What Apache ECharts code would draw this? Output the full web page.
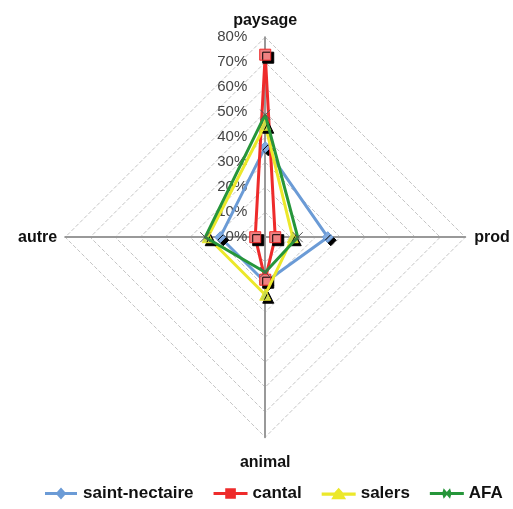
<!DOCTYPE html>
<html><head><meta charset="utf-8">
<script src="https://cdn.jsdelivr.net/npm/echarts@6/dist/echarts.min.js"></script>
<style>html,body{margin:0;padding:0;background:#fff}#c{width:513px;height:509px}</style>
</head><body><div id="c"></div>
<script>
// categories listed counter-clockwise starting at top (ECharts radar order)
var categories = ['paysage', 'autre', 'animal', 'prod'];
var seriesNames = ['saint-nectaire', 'cantal', 'salers', 'AFA'];
var saintNectaire = [36, 18, 18, 25];
var cantal = [73, 4, 17, 4];
var salers = [45, 23, 23, 11];
var afa = [49, 24, 14, 13];
var tickMax = 80;
var tickStep = 10;

var colors = ['#6b9bd6', '#ee2b2b', '#ece82a', '#26963a'];
var fills = ['#80aae0', '#f08282', '#c8d84a', '#555555'];
var symbols = ['diamond', 'rect', 'triangle', 'path://M0,0L10,10M10,0L0,10'];
var legendIcons = [
  'path://M0,4.5L12,4.5L16,0L20,4.5L32,4.5L32,7.5L20,7.5L16,12L12,7.5L0,7.5Z',
  'path://M0,4.5L11,4.5L11,1L21,1L21,4.5L32,4.5L32,7.5L21,7.5L21,11L11,11L11,7.5L0,7.5Z',
  'path://M0,4.5L12,4.5L16,0L20,4.5L32,4.5L32,7.5L21,7.5L23,11L9,11L11,7.5L0,7.5Z',
  'path://M0,4.5L12,4.5L13,1L16,4.5L19,1L20,4.5L32,4.5L32,7.5L20,7.5L19,11L16,7.5L13,11L12,7.5L0,7.5Z'
];
var values = [saintNectaire, cantal, salers, afa];
var nameGaps = [9, 8, 17, 9];

var chart = echarts.init(document.getElementById('c'));
var indicator = categories.map(function (c, i) {
  return { name: c, min: 0, max: tickMax, nameGap: nameGaps[i], axisLabel: { show: i === 0 } };
});
var series = values.map(function (v, i) {
  return {
    type: 'radar',
    name: seriesNames[i],
    symbol: symbols[i],
    symbolSize: i === 3 ? 10 : 11,
    lineStyle: { color: colors[i], width: 3 },
    itemStyle: i === 3 ? { color: colors[i], borderColor: '#555', borderWidth: 1 } :
      { color: fills[i], borderColor: colors[i], borderWidth: 1,
        shadowColor: '#000', shadowOffsetX: 3, shadowOffsetY: 3, shadowBlur: 0 },
    data: [{ value: v, name: seriesNames[i] }],
    z: 2 + i
  };
});
chart.setOption({
  animation: false,
  color: colors,
  legend: {
    bottom: 2, left: 40, itemWidth: 34, itemHeight: 12, itemGap: 20,
    textStyle: { fontFamily: 'Liberation Sans', fontWeight: 'bold', fontSize: 17, color: '#111' },
    data: seriesNames.map(function (n, i) {
      return { name: n, icon: legendIcons[i], itemStyle: { color: colors[i], borderWidth: 0, shadowColor: 'transparent' } };
    })
  },
  radar: {
    center: ['51.7%', '46.6%'],
    radius: 200,
    startAngle: 90,
    shape: 'polygon',
    splitNumber: tickMax / tickStep,
    indicator: indicator,
    axisName: { color: '#111', fontFamily: 'Liberation Sans', fontWeight: 'bold', fontSize: 16 },
    axisLine: { lineStyle: { color: '#999', width: 2 } },
    splitLine: { lineStyle: { color: '#c4c4c4', type: 'dashed', width: 1 } },
    splitArea: { show: false },
    axisTick: { show: false },
    axisLabel: { show: false, color: '#444', fontSize: 15, fontFamily: 'Liberation Sans',
      formatter: '{value}%', align: 'right', padding: [0, 18, 0, 0], margin: 0,
      showMinLabel: true, showMaxLabel: true }
  },
  series: series
});
</script></body></html>
